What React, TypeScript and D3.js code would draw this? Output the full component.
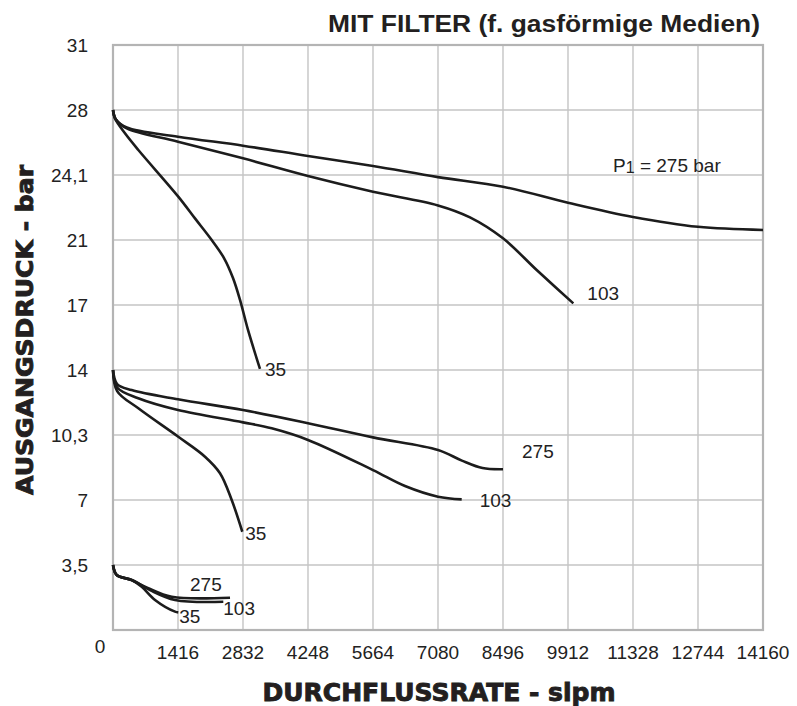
import * as d3 from 'd3'

// x = Durchflussrate (slpm), y = Ausgangsdruck (bar)
const xTicks = [0, 1416, 2832, 4248, 5664, 7080, 8496, 9912, 11328, 12744, 14160]
const yTicks = [0, 3.5, 7, 10.3, 14, 17, 21, 24.1, 28, 31]
const yTickLabels = ['0', '3,5', '7', '10,3', '14', '17', '21', '24,1', '28', '31']

type Pt = [number, number]

// P1 = 275 bar
const high275: Pt[] = [[0, 28], [60, 27.45], [300, 26.95], [1416, 26.4], [2832, 25.86], [4248, 25.24], [5664, 24.64], [7080, 24.0], [8496, 23.54], [9912, 22.78], [11328, 22.1], [12744, 21.63], [14160, 21.48]]
const high103: Pt[] = [[0, 28], [60, 27.45], [300, 26.9], [1416, 26.1], [2832, 25.1], [4248, 24.05], [5664, 23.3], [7080, 22.65], [7777, 22.08], [8496, 21.08], [9230, 19.15], [10028, 17.1]]
const high35: Pt[] = [[0, 28], [40, 27.5], [261, 26.6], [552, 25.6], [1422, 23.07], [1786, 22.03], [2150, 21.0], [2418, 19.89], [2614, 18.66], [2767, 17.31], [2941, 15.85], [3202, 14.05]]

const mid275: Pt[] = [[0, 14], [90, 13.2], [407, 12.86], [1416, 12.33], [2832, 11.72], [4248, 10.97], [5664, 10.18], [7080, 9.54], [7600, 9.0], [8050, 8.62], [8496, 8.56]]
const mid103: Pt[] = [[0, 14], [90, 13.0], [550, 12.39], [1416, 11.72], [2832, 11.02], [3457, 10.68], [4248, 10.05], [5664, 8.52], [6361, 7.71], [7080, 7.17], [7596, 7.03]]
const mid35: Pt[] = [[0, 14], [90, 12.8], [552, 11.82], [1422, 10.21], [2004, 9.2], [2331, 8.36], [2586, 7.0], [2817, 5.29]]

const low275: Pt[] = [[0, 3.5], [81, 2.96], [407, 2.69], [769, 2.25], [1279, 1.79], [2549, 1.74]]
const low103: Pt[] = [[0, 3.5], [81, 2.96], [407, 2.69], [806, 2.15], [1351, 1.62], [2403, 1.52]]
const low35: Pt[] = [[0, 3.5], [81, 2.96], [407, 2.69], [625, 2.33], [915, 1.62], [1351, 0.99], [1422, 0.95]]

const curves = [high275, high103, high35, mid275, mid103, mid35, low275, low103, low35]

// end labels: curve, text, pixel offset from end point
const endLabels: { curve: Pt[]; text: string; dx: number; dy: number }[] = [
  { curve: high103, text: '103', dx: 14, dy: -10 },
  { curve: high35, text: '35', dx: 5, dy: 0 },
  { curve: mid275, text: '275', dx: 19, dy: -18 },
  { curve: mid103, text: '103', dx: 18, dy: 1 },
  { curve: mid35, text: '35', dx: 3, dy: 2 },
  { curve: low275, text: '275', dx: -40, dy: -13 },
  { curve: low103, text: '103', dx: 0, dy: 7 },
  { curve: low35, text: '35', dx: 1, dy: 4 },
]
const p1Label: Pt = [10893, 24.28]

const W = 797
const H = 706
const margin = { top: 45, right: 34, bottom: 76, left: 113 }
const iw = W - margin.left - margin.right
const ih = H - margin.top - margin.bottom

export default function App() {
  const x = d3.scaleLinear().domain([0, 14160]).range([margin.left, margin.left + iw])
  // pressure ticks are evenly spaced on the chart, so the scale is piecewise
  const step = ih / (yTicks.length - 1)
  const y = d3.scaleLinear().domain(yTicks).range(yTicks.map((_, i) => margin.top + ih - i * step))

  const line = d3.line<Pt>().x(d => x(d[0])).y(d => y(d[1])).curve(d3.curveCatmullRom.alpha(0.5))

  const font = '"Liberation Sans", Arial, sans-serif'
  const grid = '#c4c4c4'
  const fs = 19

  return (
    <svg width={W} height={H} style={{ position: 'absolute', left: 0, top: 0, background: '#fff' }} fontFamily={font}>
      {/* grid */}
      {xTicks.slice(1, -1).map(t => (
        <line key={'gx' + t} x1={x(t)} x2={x(t)} y1={y(31)} y2={y(0)} stroke={grid} strokeWidth={1.4} />
      ))}
      {yTicks.slice(1, -1).map(t => (
        <line key={'gy' + t} x1={x(0)} x2={x(14160)} y1={y(t)} y2={y(t)} stroke={grid} strokeWidth={1.4} />
      ))}
      <rect x={x(0)} y={y(31)} width={iw} height={ih} fill="none" stroke="#b4b4b4" strokeWidth={2.2} />

      {/* curves */}
      {curves.map((c, i) => (
        <path key={i} d={line(c) ?? ''} fill="none" stroke="#1c1c1c" strokeWidth={2.6} />
      ))}

      {/* labels */}
      {endLabels.map((l, i) => {
        const end = l.curve[l.curve.length - 1]
        return (
          <text key={i} x={x(end[0]) + l.dx} y={y(end[1]) + l.dy} dy="0.35em" fontSize={fs} fill="#222">
            {l.text}
          </text>
        )
      })}
      <text x={x(p1Label[0])} y={y(p1Label[1])} fontSize={fs} fill="#222">
        P<tspan fontSize={16} dy={1}>1</tspan><tspan dy={-1}> = 275 bar</tspan>
      </text>

      {/* y ticks */}
      {yTicks.slice(1).map((t, i) => (
        <text key={'ty' + t} x={88} y={y(t)} dy="0.35em" textAnchor="end" fontSize={fs} fill="#222">
          {yTickLabels[i + 1]}
        </text>
      ))}
      {/* x ticks */}
      {xTicks.slice(1).map(t => (
        <text key={'tx' + t} x={x(t)} y={y(0) + 29} textAnchor="middle" fontSize={fs} fill="#222">
          {t}
        </text>
      ))}
      <text x={x(0) - 13} y={y(0) + 23} textAnchor="middle" fontSize={fs} fill="#222">0</text>

      {/* titles */}
      <text x={760} y={32} textAnchor="end" fontSize={23.5} fontWeight="bold" fill="#231f20" textLength={432} lengthAdjust="spacingAndGlyphs">
        MIT FILTER (f. gasförmige Medien)
      </text>
      <text
        transform={`translate(33,${(165 + 495) / 2}) rotate(-90)`}
        textAnchor="middle"
        fontFamily='"DejaVu Sans", sans-serif'
        fontWeight="bold"
        fontSize={23}
        fill="#231f20"
        stroke="#231f20"
        strokeWidth={0.9}
        textLength={330}
        lengthAdjust="spacingAndGlyphs"
      >
        AUSGANGSDRUCK - bar
      </text>
      <text
        x={439}
        y={701}
        textAnchor="middle"
        fontFamily='"DejaVu Sans", sans-serif'
        fontWeight="bold"
        fontSize={24}
        fill="#231f20"
        stroke="#231f20"
        strokeWidth={0.9}
        textLength={353}
        lengthAdjust="spacingAndGlyphs"
      >
        DURCHFLUSSRATE - slpm
      </text>
    </svg>
  )
}
